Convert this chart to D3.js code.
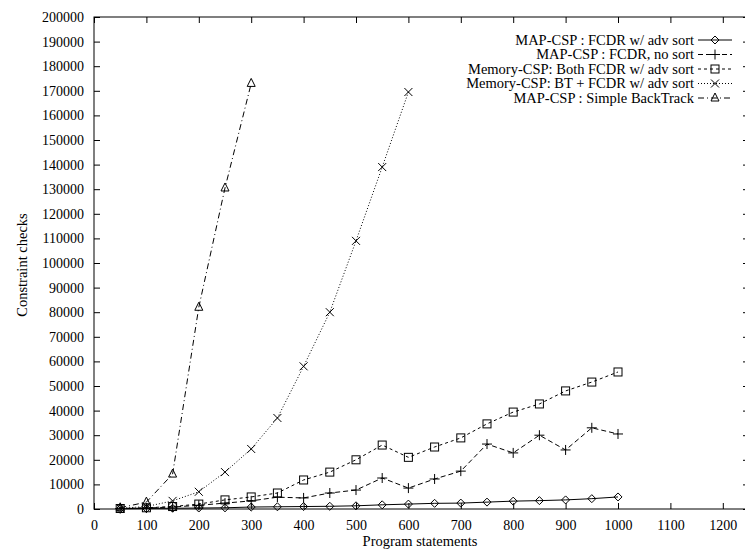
<!DOCTYPE html>
<html>
<head>
<meta charset="utf-8">
<script src="https://cdn.jsdelivr.net/npm/d3@7"></script>
<style>
  body { margin: 0; background: #fff; }
</style>
</head>
<body>
<script>
// program statements (x)
var statements = [50, 100, 150, 200, 250, 300, 350, 400, 450, 500, 550, 600, 650, 700, 750, 800, 850, 900, 950, 1000];

// constraint checks per series
var mapAdvSort = [100, 200, 300, 400, 500, 800, 900, 1000, 1100, 1300, 1700, 2000, 2300, 2400, 2800, 3200, 3400, 3700, 4200, 4900];
var mapNoSort = [150, 400, 800, 1500, 2400, 3300, 4800, 4500, 6500, 7700, 12600, 8500, 12200, 15400, 26400, 22800, 30000, 24000, 33000, 30500];
var memBoth = [200, 500, 1000, 2000, 3700, 4900, 6500, 11800, 15000, 20000, 26000, 21000, 25200, 28900, 34600, 39400, 42700, 48000, 51600, 55700];
var memBt = [300, 1000, 3300, 7000, 15000, 24400, 37000, 58000, 80000, 109000, 139000, 169500];
var simpleBt = [500, 2800, 14200, 82000, 130500, 173000];

var seriesNames = [
  "MAP-CSP : FCDR w/ adv sort",
  "MAP-CSP : FCDR, no sort",
  "Memory-CSP: Both FCDR w/ adv sort",
  "Memory-CSP: BT + FCDR w/ adv sort",
  "MAP-CSP : Simple BackTrack"
];
var seriesValues = [mapAdvSort, mapNoSort, memBoth, memBt, simpleBt];
var dashes = [null, "5,3", "3,3", "1,2", "6,3,1,3"];
var markers = ["diamond", "plus", "square", "cross", "triangle"];

var xTicks = d3.range(0, 1201, 100);
var yTicks = d3.range(0, 200001, 10000);

var FONT = '"Liberation Serif", "Times New Roman", serif';

var width = 745, height = 550;
var margin = {left: 94, top: 17};
var plotW = 655, plotH = 492;

var svg = d3.select('body').append('svg')
    .attr('width', width)
    .attr('height', height);

var x = d3.scaleLinear().domain([0, 1250]).range([margin.left, margin.left + plotW]);
var y = d3.scaleLinear().domain([0, 200000]).range([margin.top + plotH, margin.top]);

function styleAxis(g) {
  g.attr('font-family', null).attr('font-size', null);
  g.select('.domain').remove();
  g.selectAll('line').attr('stroke', '#000');
  g.selectAll('text').style('font-size', '14px').style('font-family', FONT).attr('fill', '#000');
}

svg.append('g').attr('transform', 'translate(0,' + y(0) + ')')
  .call(d3.axisBottom(x).tickValues(xTicks).tickSize(-6).tickPadding(11).tickFormat(d3.format('d')))
  .call(styleAxis);
svg.append('g').attr('transform', 'translate(0,' + y(200000) + ')')
  .call(d3.axisTop(x).tickValues(xTicks).tickSize(-6).tickFormat(''))
  .call(styleAxis);
svg.append('g').attr('transform', 'translate(' + x(0) + ',0)')
  .call(d3.axisLeft(y).tickValues(yTicks).tickSize(-6).tickPadding(10).tickFormat(d3.format('d')))
  .call(styleAxis);
svg.append('g').attr('transform', 'translate(' + x(1250) + ',0)')
  .call(d3.axisRight(y).tickValues(yTicks).tickSize(-6).tickFormat(''))
  .call(styleAxis);

svg.append('rect')
  .attr('x', x(0)).attr('y', y(200000))
  .attr('width', x(1250) - x(0)).attr('height', y(0) - y(200000))
  .attr('fill', 'none').attr('stroke', '#000').attr('stroke-width', 1);

// axis titles
svg.append('text').attr('x', 420).attr('y', 546).attr('text-anchor', 'middle')
  .style('font-size', '14.5px').style('font-family', FONT).text('Program statements');
svg.append('text').attr('transform', 'translate(27,265) rotate(-90)').attr('text-anchor', 'middle')
  .style('font-size', '14.5px').style('font-family', FONT).text('Constraint checks');

function drawMarker(g, type, cx, cy) {
  var s = 4;
  if (type === 'diamond') {
    g.append('path').attr('d', 'M' + (cx - s) + ',' + cy + 'L' + cx + ',' + (cy - s) + 'L' + (cx + s) + ',' + cy + 'L' + cx + ',' + (cy + s) + 'Z')
      .attr('fill', 'none').attr('stroke', '#000');
  } else if (type === 'plus') {
    g.append('path').attr('d', 'M' + (cx - s - 1) + ',' + cy + 'H' + (cx + s + 1) + 'M' + cx + ',' + (cy - s - 1) + 'V' + (cy + s + 1))
      .attr('stroke', '#000');
  } else if (type === 'square') {
    g.append('rect').attr('x', cx - s).attr('y', cy - s).attr('width', 2 * s).attr('height', 2 * s)
      .attr('fill', 'none').attr('stroke', '#000');
  } else if (type === 'cross') {
    g.append('path').attr('d', 'M' + (cx - s) + ',' + (cy - s) + 'L' + (cx + s) + ',' + (cy + s) + 'M' + (cx - s) + ',' + (cy + s) + 'L' + (cx + s) + ',' + (cy - s))
      .attr('stroke', '#000');
  } else if (type === 'triangle') {
    g.append('path').attr('d', 'M' + cx + ',' + (cy - s - 1) + 'L' + (cx + s) + ',' + (cy + s - 1) + 'L' + (cx - s) + ',' + (cy + s - 1) + 'Z')
      .attr('fill', 'none').attr('stroke', '#000');
  }
}

var line = d3.line()
  .x(function (d) { return x(d[0]); })
  .y(function (d) { return y(d[1]); });

for (let i = 0; i < seriesValues.length; i++) {
  var pts = seriesValues[i].map(function (v, j) { return [statements[j], v]; });
  var g = svg.append('g');
  g.append('path').attr('d', line(pts))
    .attr('fill', 'none').attr('stroke', '#000').attr('stroke-width', 1)
    .attr('stroke-dasharray', dashes[i]);
  pts.forEach(function (p) { drawMarker(g, markers[i], x(p[0]), y(p[1])); });

  // legend row
  var ly = 40 + i * 14.5;
  svg.append('text').attr('x', 694).attr('y', ly + 4.5).attr('text-anchor', 'end')
    .style('font-size', '14.5px').style('font-family', FONT).text(seriesNames[i]);
  svg.append('line').attr('x1', 698).attr('x2', 732).attr('y1', ly).attr('y2', ly)
    .attr('stroke', '#000').attr('stroke-dasharray', dashes[i]);
  drawMarker(svg.append('g'), markers[i], 715, ly);
}
</script>
</body>
</html>
